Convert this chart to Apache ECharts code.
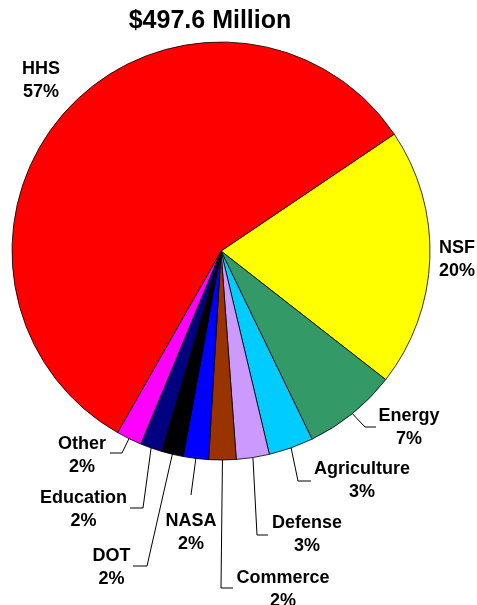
<!DOCTYPE html>
<html>
<head>
<meta charset="utf-8">
<script src="https://cdn.jsdelivr.net/npm/echarts@6/dist/echarts.min.js"></script>
<style>
  html, body { margin: 0; padding: 0; background: #fff; }
  #main { width: 477px; height: 605px; }
</style>
</head>
<body>
<div id="main"></div>
<script>
// funding by agency, $ millions (total 497.6)
const agencies = ['NSF', 'Energy', 'Agriculture', 'Defense', 'Commerce', 'NASA', 'DOT', 'Education', 'Other', 'HHS'];
const funding = [99.5, 36.2, 17.2, 12.7, 10.5, 9.7, 8.4, 8.4, 9.8, 285.2];
const sliceColors = ['#ffff00', '#339966', '#00ccff', '#cc99ff', '#993300', '#0000ff', '#000000', '#000080', '#ff00ff', '#ff0000'];
const totalLabel = '$497.6 Million';

// where each label sits (text centre) and the bend/end of its leader line
const labelPlace = {
  NSF: { at: [457, 260] },
  Energy: { at: [409, 428], line: [[365, 427], [376, 427]] },
  Agriculture: { at: [362, 481], line: [[298, 481], [311, 481]] },
  Defense: { at: [307, 535], line: [[257, 535], [268, 535]] },
  Commerce: { at: [283, 590], line: [[221, 588], [233, 588]] },
  NASA: { at: [191, 533], line: [[191, 495], [191, 495]] },
  DOT: { at: [111.5, 567.5], line: [[147, 566], [133, 566]] },
  Education: { at: [83.5, 509.5], line: [[143, 508], [130, 508]] },
  Other: { at: [82, 456], line: [[122, 453], [110, 453]] },
  HHS: { at: [41, 81] }
};

const chart = echarts.init(document.getElementById('main'));

const pieData = agencies.map(function (name, i) {
  return {
    name: name,
    value: funding[i],
    itemStyle: { color: sliceColors[i] },
    labelLine: { show: !!labelPlace[name].line }
  };
});

const option = {
  backgroundColor: '#fff',
  animation: false,
  title: {
    text: totalLabel,
    left: 210,
    top: 9,
    padding: 0,
    textAlign: 'center',
    textStyle: {
      fontFamily: 'Liberation Sans, Arial, sans-serif',
      fontSize: 25,
      fontWeight: 'bold',
      color: '#000'
    }
  },
  series: [
    {
      type: 'pie',
      center: [221, 251],
      radius: 209,
      startAngle: 34,
      clockwise: true,
      avoidLabelOverlap: false,
      minShowLabelAngle: 0,
      data: pieData,
      itemStyle: { borderColor: '#000', borderWidth: 0.8 },
      emphasis: { disabled: true },
      label: {
        show: true,
        position: 'outside',
        formatter: function (p) {
          return p.name + '\n' + Math.round(p.percent) + '%';
        },
        fontFamily: 'Liberation Sans, Arial, sans-serif',
        fontSize: 18,
        fontWeight: 'bold',
        color: '#000',
        lineHeight: 23,
        align: 'center'
      },
      labelLine: {
        show: true,
        smooth: false,
        length: 10,
        length2: 10,
        lineStyle: { color: '#000', width: 1 }
      },
      labelLayout: function (params) {
        const p = labelPlace[agencies[params.dataIndex]];
        const out = { x: p.at[0], y: p.at[1], align: 'center', verticalAlign: 'middle' };
        if (p.line && params.labelLinePoints) {
          out.labelLinePoints = [params.labelLinePoints[0], p.line[0], p.line[1]];
        }
        return out;
      }
    }
  ]
};

chart.setOption(option);
window.onresize = function () {
  chart.resize();
};
</script>
</body>
</html>
